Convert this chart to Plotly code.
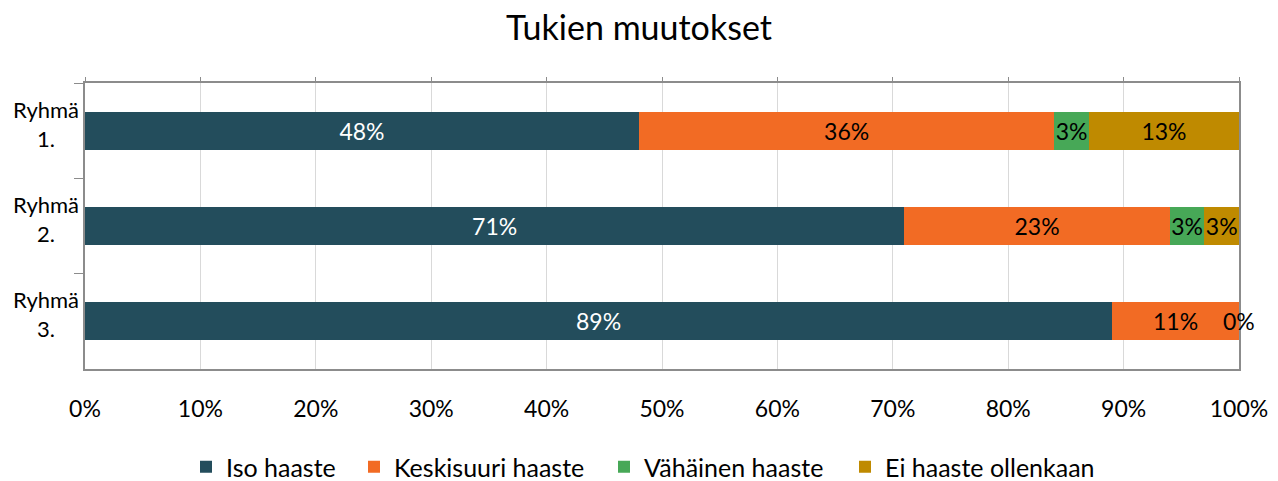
import plotly.graph_objects as go

categories = ["Ryhmä 1.", "Ryhmä 2.", "Ryhmä 3."]
category_labels = ["Ryhmä<br>1.", "Ryhmä<br>2.", "Ryhmä<br>3."]
series_names = ["Iso haaste", "Keskisuuri haaste", "Vähäinen haaste", "Ei haaste ollenkaan"]
iso = [48, 71, 89]
keski = [36, 23, 11]
vahainen = [3, 3, 0]
ei = [13, 3, 0]
x_ticks = [0, 10, 20, 30, 40, 50, 60, 70, 80, 90, 100]

colors = ["#234D5C", "#F26B24", "#47A857", "#BF8A00"]
text_colors = ["white", "black", "black", "black"]
values = [iso, keski, vahainen, ei]
FONT = "Lato"
W, H = 1278, 481
legend_left_px = [186, 354, 604, 845]
legend_ids = ["legend", "legend2", "legend3", "legend4"]

fig = go.Figure()
for name, vals, col, tcol, lid in zip(series_names, values, colors, text_colors, legend_ids):
    fig.add_trace(go.Bar(
        y=categories, x=vals, name=name, orientation="h",
        marker=dict(color=col, line=dict(width=0)),
        text=[f"{v}%" if v > 0 else "" for v in vals],
        textposition="inside", insidetextanchor="middle", textangle=0,
        textfont=dict(color=tcol, size=23, family=FONT),
        constraintext="none", legend=lid,
        hoverinfo="skip",
    ))

# zero-valued labels at the end of the bar
for ci, cat in enumerate(categories):
    total = sum(v[ci] for v in values)
    zeros = [v[ci] for v in values[2:] if v[ci] == 0]
    if zeros:
        fig.add_annotation(x=total, y=cat, text="0%", showarrow=False,
                           xanchor="center", yanchor="middle",
                           font=dict(size=23, color="black", family=FONT))

# centered category labels
for cat, lab in zip(categories, category_labels):
    fig.add_annotation(x=0, xref="paper", y=cat, yref="y", text=lab, showarrow=False,
                       xanchor="right", yanchor="middle", align="center", xshift=-4, yshift=7,
                       font=dict(size=22, color="black", family=FONT))

# invisible trace for top axis
fig.add_trace(go.Scatter(x=[0, 100], y=[categories[0], categories[0]], xaxis="x2",
                         mode="markers", marker=dict(opacity=0), showlegend=False,
                         hoverinfo="skip"))

legend_style = dict(orientation="h", xref="container", yref="container",
                    xanchor="left", yanchor="middle", y=(H - 467) / H,
                    font=dict(size=25, family=FONT, color="black"),
                    bgcolor="rgba(0,0,0,0)", itemwidth=30)
legends = {}
for lid, px in zip(legend_ids, legend_left_px):
    legends[lid] = dict(legend_style, x=px / W)

fig.update_layout(
    barmode="stack",
    bargap=0.6,
    width=W, height=H,
    margin=dict(l=85, r=39, t=83, b=112),
    paper_bgcolor="white", plot_bgcolor="white",
    font=dict(family=FONT, color="black"),
    title=dict(text="Tukien muutokset", x=0.5, xanchor="center", y=0.942, yanchor="middle",
               font=dict(size=34, family=FONT, color="black"), automargin=False),
    xaxis=dict(range=[0, 100], tickvals=x_ticks, ticktext=[f"{t}%" for t in x_ticks],
               showgrid=True, gridcolor="#D9D9D9", gridwidth=1,
               showline=True, linecolor="#8C8C8C", linewidth=2, mirror=True,
               ticks="", ticklabelstandoff=18, tickfont=dict(size=23, family=FONT, color="black"),
               zeroline=False, fixedrange=True, automargin=False),
    xaxis2=dict(range=[0, 100], overlaying="x", side="top", tickvals=x_ticks,
                showticklabels=False, ticks="outside", ticklen=5, tickcolor="#8C8C8C",
                tickwidth=1, showgrid=False, showline=False, zeroline=False, automargin=False),
    yaxis=dict(autorange="reversed", type="category", tickson="boundaries",
               ticks="outside", ticklen=9, tickcolor="#8C8C8C", tickwidth=1,
               showticklabels=False,
               showline=True, linecolor="#8C8C8C", linewidth=2, mirror=True,
               showgrid=False, automargin=False),
    showlegend=True,
    **legends,
)

fig.write_html("out.html", config={"displayModeBar": False})

# remove default body margin so the figure sits at the page origin
with open("out.html", "r", encoding="utf-8") as f:
    html = f.read()
html = html.replace("<body>", '<body style="margin:0;padding:0;overflow:hidden">', 1)
with open("out.html", "w", encoding="utf-8") as f:
    f.write(html)
